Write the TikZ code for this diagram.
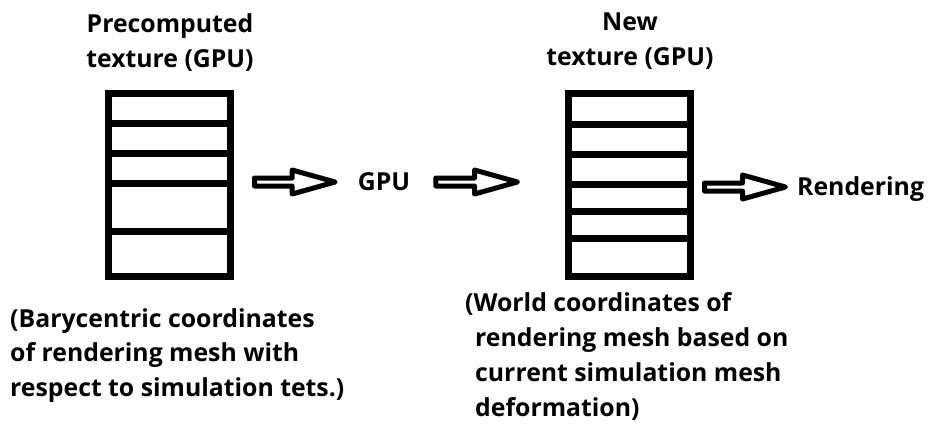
\documentclass[tikz,border=0pt]{standalone}
\usepackage{fontspec}
\setmainfont{Open Sans}
\usetikzlibrary{calc}

\tikzset{
  texbox/.style={draw, line width=7pt, minimum width=122pt, minimum height=183pt, inner sep=0pt, outer sep=0pt},
  slot/.style={line width=7pt},
  lbl/.style={font=\bfseries\fontsize{24.8}{35}\selectfont, inner sep=0pt},
  blockarrow/.style={draw, line width=5pt, fill=white, line join=round,
    to path={($(\tikztostart)+(0,-4)$) -- ($(\tikztotarget)+(-43,-4)$) -- ($(\tikztotarget)+(-43,-12)$) -- (\tikztotarget)
      -- ($(\tikztotarget)+(-43,12)$) -- ($(\tikztotarget)+(-43,4)$) -- ($(\tikztostart)+(0,4)$) -- cycle}}
}

\begin{document}
\begin{tikzpicture}[x=1pt,y=-1pt]
  \useasboundingbox[fill=white] (0,0) rectangle (928,424);

  % the two textures
  \node[texbox] (precomp) at (169.5,185) {};
  \node[texbox] (newtex) at (629.5,185) {};
  \foreach \y in {123,153,183,231}
    \draw[slot] (precomp.west |- 0,\y) -- (precomp.east |- 0,\y);
  \foreach \y in {124,154,184,211,238}
    \draw[slot] (newtex.west |- 0,\y) -- (newtex.east |- 0,\y);

  % labels
  \node[lbl, align=center, anchor=north] (pretitle) at (170,13) {Precomputed\\texture (GPU)};
  \node[lbl, align=center, anchor=north] (newtitle) at (630,13) {New\\texture (GPU)};
  \node[lbl] (gpu) at (384,182) {GPU};
  \node[lbl, anchor=base west] (rend) at (797,195) {Rendering};
  \node[lbl, align=left, anchor=north west, font=\bfseries\fontsize{24.8}{34.5}\selectfont] (pretext) at (10,308)
    {(Barycentric coordinates\\of rendering mesh with\\respect to simulation tets.)};
  \node[lbl, align=left, anchor=north west, font=\bfseries\fontsize{24.8}{35}\selectfont] (newtext) at (465,292)
    {(World coordinates of\\\hspace*{10pt}rendering mesh based on\\\hspace*{10pt}current simulation mesh\\\hspace*{10pt}deformation)};

  % flow
  \draw[blockarrow] ($(precomp.east |- gpu.west)+(24,0)$) to ($(gpu.west)+(-22.5,0)$);
  \draw[blockarrow] ($(gpu.east)+(25.5,0)$) to ($(newtex.west |- gpu.west)+(-51,0)$);
  \draw[blockarrow] ($(newtex.east)+(14,2)$) to ($(newtex.east)+(95,2)$);
\end{tikzpicture}
\end{document}
